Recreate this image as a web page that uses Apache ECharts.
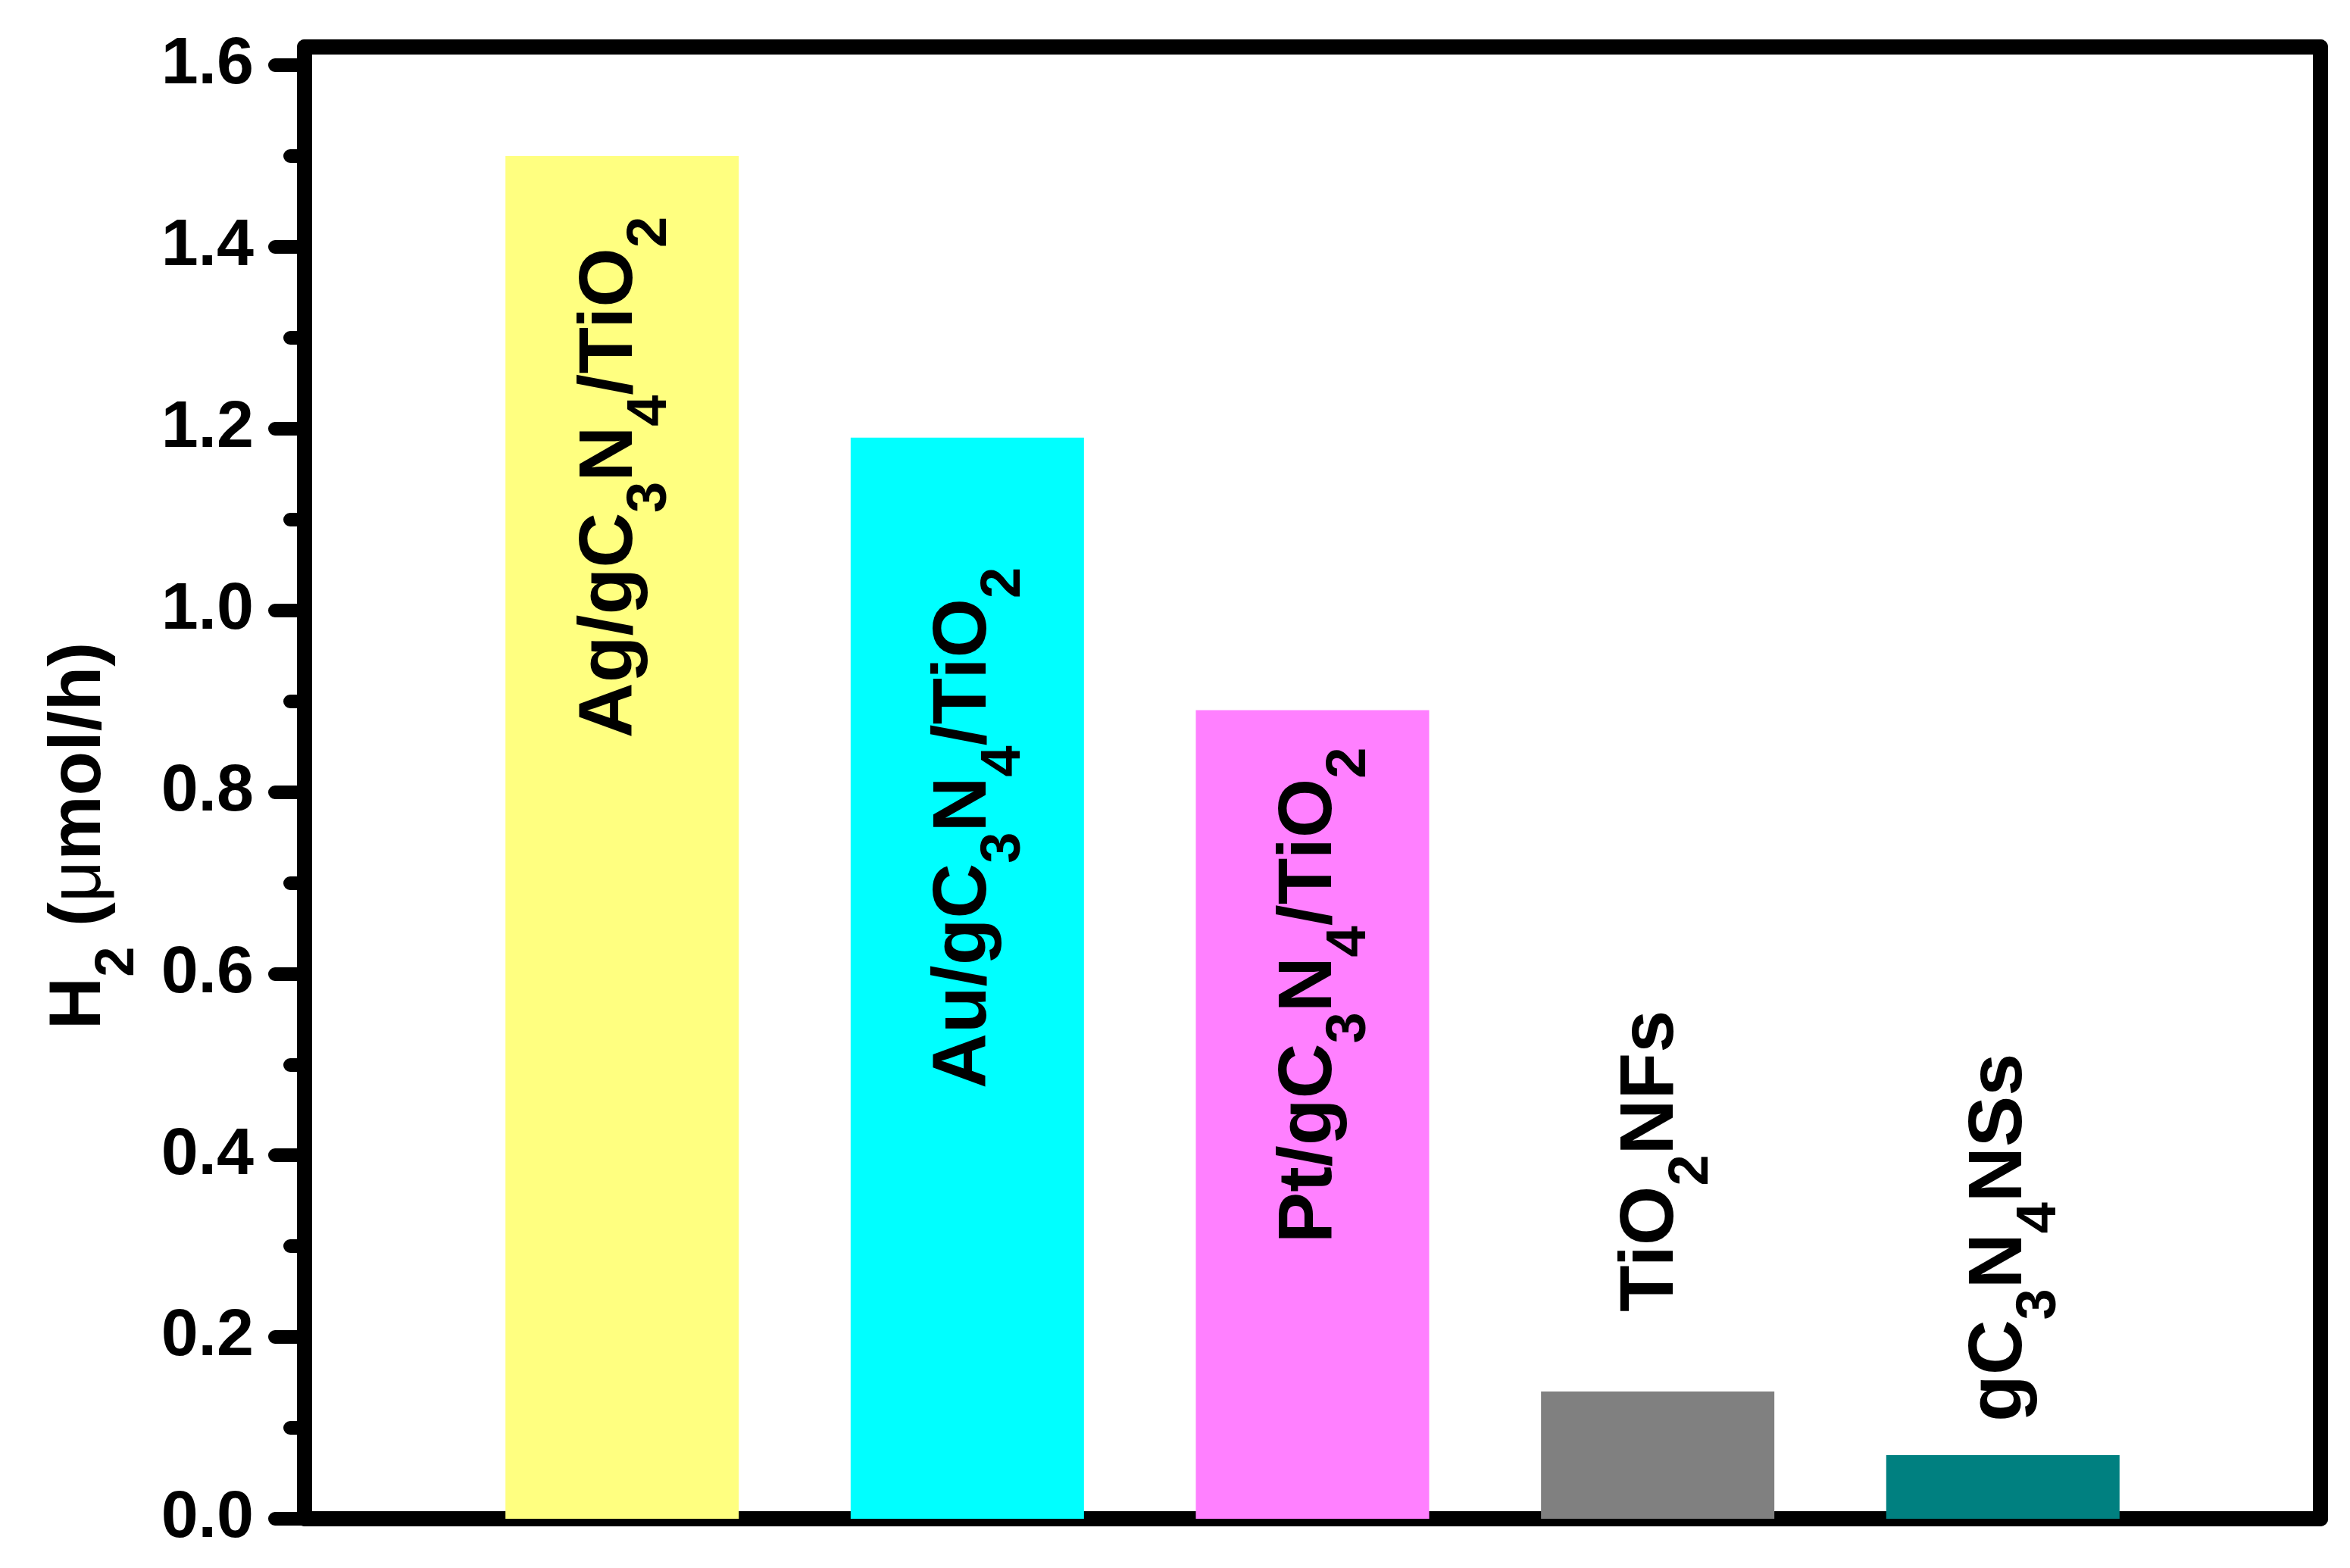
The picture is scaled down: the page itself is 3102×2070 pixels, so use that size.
<!DOCTYPE html>
<html><head><meta charset="utf-8">
<script src="https://cdn.jsdelivr.net/npm/echarts@6/dist/echarts.min.js"></script>
<style>html,body{margin:0;padding:0;background:#fff}#c{width:3102px;height:2070px}</style>
</head><body><div id="c"></div>
<script>
// ---- data ----
const categories = ['Ag/gC3N4/TiO2', 'Au/gC3N4/TiO2', 'Pt/gC3N4/TiO2', 'TiO2NFs', 'gC3N4NSs'];
const categoryRichLabels = [
  '{n|Ag/gC}{s|3}{n|N}{s|4}{n|/TiO}{s|2}',
  '{n|Au/gC}{s|3}{n|N}{s|4}{n|/TiO}{s|2}',
  '{n|Pt/gC}{s|3}{n|N}{s|4}{n|/TiO}{s|2}',
  '{n|TiO}{s|2}{n|NFs}',
  '{n|gC}{s|3}{n|N}{s|4}{n|NSs}'
];
const h2Rates = [1.50, 1.19, 0.89, 0.14, 0.07];
const barSlots = [1, 2, 3, 4, 5];
const yTickValues = [0.0, 0.2, 0.4, 0.6, 0.8, 1.0, 1.2, 1.4, 1.6];
const yMinorTickValues = [0.1, 0.3, 0.5, 0.7, 0.9, 1.1, 1.3, 1.5];
const yAxisTitle = '{n|H}{s|2}{n| (}{mu|\u03bc}{n|mol/h)}';

// ---- style ----
const barColors = ['#FFFF80', '#00FFFF', '#FF80FF', '#808080', '#008080'];
const labelPlacement = [
  { position: 'insideTop', distance: 80, shift: -16 },
  { position: 'insideTop', distance: 171, shift: -4 },
  { position: 'insideTop', distance: 49, shift: -4 },
  { position: 'top', distance: 105, shift: -8 },
  { position: 'top', distance: 44, shift: -4 }
];
const FONT = '"Liberation Sans", Arial, Helvetica, sans-serif';
const LW = 20;
const richStyles = {
  n: { fontFamily: FONT, fontWeight: 'bold', fontSize: 101, lineHeight: 100, verticalAlign: 'top', color: '#000' },
  s: { fontFamily: FONT, fontWeight: 'bold', fontSize: 74, lineHeight: 74, verticalAlign: 'top', padding: [66, 0, 0, 0], color: '#000' },
  mu: { fontFamily: FONT, fontWeight: 'normal', fontSize: 101, lineHeight: 100, verticalAlign: 'top', color: '#000' }
};
const titleRich = {
  n: { fontFamily: FONT, fontWeight: 'bold', fontSize: 96, lineHeight: 100, verticalAlign: 'top', color: '#000' },
  s: { fontFamily: FONT, fontWeight: 'bold', fontSize: 72, lineHeight: 72, verticalAlign: 'top', padding: [62, 0, 0, 0], color: '#000' },
  mu: { fontFamily: FONT, fontWeight: 'normal', fontSize: 96, lineHeight: 100, verticalAlign: 'top', color: '#000' }
};

const barData = h2Rates.map((v, i) => ({
  value: [barSlots[i], v],
  name: categories[i],
  itemStyle: { color: barColors[i] },
  label: {
    position: labelPlacement[i].position,
    distance: labelPlacement[i].distance,
    offset: [0, labelPlacement[i].shift],
    align: labelPlacement[i].position === 'insideTop' ? 'right' : 'left'
  }
}));

const chart = echarts.init(document.getElementById('c'), null, { renderer: 'canvas' });
const blackLine = { color: '#000', width: LW, cap: 'round' };
chart.setOption({
  animation: false,
  backgroundColor: '#fff',
  grid: { left: 402, right: 39, top: 62, bottom: 65, containLabel: false, outerBoundsMode: 'none' },
  xAxis: [
    { type: 'value', min: 0.08, max: 5.92, position: 'bottom',
      axisLine: { show: true, onZero: false, lineStyle: blackLine },
      axisTick: { show: false }, axisLabel: { show: false }, splitLine: { show: false } },
    { type: 'value', min: 0.08, max: 5.92, position: 'top',
      axisLine: { show: true, onZero: false, lineStyle: blackLine },
      axisTick: { show: false }, axisLabel: { show: false }, splitLine: { show: false } }
  ],
  yAxis: [
    { type: 'value', min: 0, max: 1.62, interval: 0.2, position: 'left',
      axisLine: { show: true, onZero: false, lineStyle: blackLine },
      axisTick: { show: true, customValues: yTickValues, length: 39, lineStyle: { color: '#000', width: 18, cap: 'round' } },
      axisLabel: { show: true, customValues: yTickValues, margin: 67, color: '#000', fontSize: 88, fontWeight: 'bold', fontFamily: FONT,
        formatter: v => v.toFixed(1) },
      splitLine: { show: false },
      name: yAxisTitle, nameLocation: 'middle', nameGap: 244,
      nameTextStyle: { rich: titleRich, padding: [0, 140, 0, 0] } },
    { type: 'value', min: 0, max: 1.62, position: 'left',
      axisLine: { show: false },
      axisTick: { show: true, customValues: yMinorTickValues, length: 19, lineStyle: { color: '#000', width: 18, cap: 'round' } },
      axisLabel: { show: false }, splitLine: { show: false } },
    { type: 'value', min: 0, max: 1.62, position: 'right',
      axisLine: { show: true, onZero: false, lineStyle: blackLine },
      axisTick: { show: false }, axisLabel: { show: false }, splitLine: { show: false } }
  ],
  series: [{
    type: 'bar', xAxisIndex: 0, yAxisIndex: 0, barWidth: 308,
    data: barData,
    label: { show: true, rotate: 90, verticalAlign: 'middle', color: '#000',
      formatter: p => categoryRichLabels[p.dataIndex], rich: richStyles },
    z: 1
  }]
});
</script></body></html>
